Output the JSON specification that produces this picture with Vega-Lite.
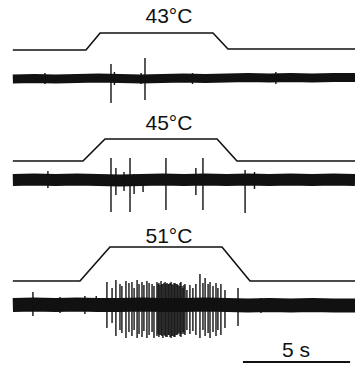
{
  "$schema": "https://vega.github.io/schema/vega-lite/v6.json",
  "width": 355,
  "height": 368,
  "padding": 0,
  "autosize": {"type": "none"},
  "background": "white",
  "config": {"view": {"stroke": null}},
  "datasets": {
    "temp": [
      {"trace": "43", "t": 0, "v": 318}, {"trace": "43", "t": 3.42, "v": 318}, {"trace": "43", "t": 4.08, "v": 335}, {"trace": "43", "t": 9.36, "v": 335}, {"trace": "43", "t": 10.06, "v": 319}, {"trace": "43", "t": 16, "v": 319},
      {"trace": "45", "t": 0, "v": 207}, {"trace": "45", "t": 3.28, "v": 207}, {"trace": "45", "t": 4.31, "v": 229}, {"trace": "45", "t": 9.55, "v": 229}, {"trace": "45", "t": 10.48, "v": 207}, {"trace": "45", "t": 16, "v": 207},
      {"trace": "51", "t": 0, "v": 87}, {"trace": "51", "t": 3.14, "v": 87}, {"trace": "51", "t": 4.54, "v": 121}, {"trace": "51", "t": 9.78, "v": 121}, {"trace": "51", "t": 11.09, "v": 87}, {"trace": "51", "t": 16, "v": 87}
    ],
    "band": [
      {"trace": "43", "t": 0, "v": 289}, {"trace": "43", "t": 1, "v": 289.5}, {"trace": "43", "t": 2, "v": 289}, {"trace": "43", "t": 3, "v": 289.5}, {"trace": "43", "t": 4, "v": 290}, {"trace": "43", "t": 5, "v": 289.5}, {"trace": "43", "t": 6, "v": 289}, {"trace": "43", "t": 7, "v": 289.5}, {"trace": "43", "t": 8, "v": 290}, {"trace": "43", "t": 9, "v": 289.5}, {"trace": "43", "t": 10, "v": 290}, {"trace": "43", "t": 11, "v": 290.5}, {"trace": "43", "t": 12, "v": 290}, {"trace": "43", "t": 13, "v": 290.5}, {"trace": "43", "t": 14, "v": 290}, {"trace": "43", "t": 15, "v": 290.5}, {"trace": "43", "t": 16, "v": 290.5},
      {"trace": "45", "t": 0, "v": 188}, {"trace": "45", "t": 1, "v": 188.5}, {"trace": "45", "t": 2, "v": 188}, {"trace": "45", "t": 3, "v": 188.5}, {"trace": "45", "t": 4, "v": 188}, {"trace": "45", "t": 5, "v": 187.5}, {"trace": "45", "t": 6, "v": 188}, {"trace": "45", "t": 7, "v": 188.5}, {"trace": "45", "t": 8, "v": 188}, {"trace": "45", "t": 9, "v": 188.5}, {"trace": "45", "t": 10, "v": 188}, {"trace": "45", "t": 11, "v": 188.5}, {"trace": "45", "t": 12, "v": 188}, {"trace": "45", "t": 13, "v": 188.5}, {"trace": "45", "t": 14, "v": 188}, {"trace": "45", "t": 15, "v": 188.5}, {"trace": "45", "t": 16, "v": 188},
      {"trace": "51", "t": 0, "v": 63}, {"trace": "51", "t": 1, "v": 63.5}, {"trace": "51", "t": 2, "v": 63}, {"trace": "51", "t": 3, "v": 63.5}, {"trace": "51", "t": 4, "v": 63}, {"trace": "51", "t": 5, "v": 63}, {"trace": "51", "t": 6, "v": 63.5}, {"trace": "51", "t": 7, "v": 63}, {"trace": "51", "t": 8, "v": 63}, {"trace": "51", "t": 9, "v": 63.5}, {"trace": "51", "t": 10, "v": 63}, {"trace": "51", "t": 11, "v": 62.5}, {"trace": "51", "t": 12, "v": 63}, {"trace": "51", "t": 13, "v": 62.5}, {"trace": "51", "t": 14, "v": 63}, {"trace": "51", "t": 15, "v": 62.5}, {"trace": "51", "t": 16, "v": 62.5}
    ],
    "spikes": [
      {"t": 4.59, "lo": 265, "hi": 304}, {"t": 6.18, "lo": 268, "hi": 310},
      {"t": 1.5, "lo": 284, "hi": 295}, {"t": 4.75, "lo": 283, "hi": 296}, {"t": 6.0, "lo": 284, "hi": 295}, {"t": 8.4, "lo": 284, "hi": 295}, {"t": 12.3, "lo": 284, "hi": 296},
      {"t": 4.59, "lo": 156, "hi": 210}, {"t": 5.48, "lo": 156, "hi": 210}, {"t": 7.16, "lo": 158, "hi": 210}, {"t": 8.89, "lo": 158, "hi": 210}, {"t": 10.86, "lo": 155, "hi": 198},
      {"t": 4.82, "lo": 173, "hi": 200}, {"t": 5.67, "lo": 174, "hi": 194}, {"t": 6.09, "lo": 176, "hi": 191}, {"t": 8.56, "lo": 173, "hi": 200}, {"t": 1.64, "lo": 180, "hi": 197}, {"t": 5.2, "lo": 177, "hi": 196}, {"t": 11.3, "lo": 179, "hi": 196},
      {"t": 0.94, "lo": 52, "hi": 76}, {"t": 2.21, "lo": 55, "hi": 71}, {"t": 3.37, "lo": 54, "hi": 72}, {"t": 3.9, "lo": 56, "hi": 72}, {"t": 11.6, "lo": 55, "hi": 70},
      {"t": 4.40, "lo": 40, "hi": 86}, {"t": 4.64, "lo": 45, "hi": 80}, {"t": 4.82, "lo": 32, "hi": 88}, {"t": 5.01, "lo": 38, "hi": 84}, {"t": 5.10, "lo": 35, "hi": 82}, {"t": 5.29, "lo": 30, "hi": 87}, {"t": 5.43, "lo": 36, "hi": 85}, {"t": 5.57, "lo": 32, "hi": 86}, {"t": 5.67, "lo": 38, "hi": 80}, {"t": 5.81, "lo": 30, "hi": 88}, {"t": 5.90, "lo": 34, "hi": 84}, {"t": 6.04, "lo": 31, "hi": 86}, {"t": 6.13, "lo": 37, "hi": 83}, {"t": 6.27, "lo": 30, "hi": 87}, {"t": 6.37, "lo": 33, "hi": 85}, {"t": 6.51, "lo": 36, "hi": 84}, {"t": 6.60, "lo": 30, "hi": 82},
      {"t": 6.74, "lo": 32, "hi": 86}, {"t": 6.79, "lo": 34, "hi": 84}, {"t": 6.83, "lo": 31, "hi": 85}, {"t": 6.88, "lo": 33, "hi": 83}, {"t": 6.93, "lo": 33, "hi": 87}, {"t": 6.97, "lo": 32, "hi": 84}, {"t": 7.02, "lo": 30, "hi": 84}, {"t": 7.07, "lo": 33, "hi": 85}, {"t": 7.12, "lo": 32, "hi": 86}, {"t": 7.16, "lo": 31, "hi": 84}, {"t": 7.21, "lo": 31, "hi": 85}, {"t": 7.26, "lo": 33, "hi": 84}, {"t": 7.30, "lo": 33, "hi": 84}, {"t": 7.35, "lo": 31, "hi": 85}, {"t": 7.40, "lo": 30, "hi": 86}, {"t": 7.44, "lo": 32, "hi": 84}, {"t": 7.49, "lo": 32, "hi": 83}, {"t": 7.54, "lo": 31, "hi": 85}, {"t": 7.58, "lo": 31, "hi": 85}, {"t": 7.63, "lo": 33, "hi": 84}, {"t": 7.68, "lo": 33, "hi": 84}, {"t": 7.72, "lo": 34, "hi": 83}, {"t": 7.77, "lo": 35, "hi": 82}, {"t": 7.82, "lo": 32, "hi": 85}, {"t": 7.86, "lo": 31, "hi": 86}, {"t": 7.91, "lo": 34, "hi": 82}, {"t": 7.96, "lo": 36, "hi": 80}, {"t": 8.00, "lo": 34, "hi": 83},
      {"t": 8.05, "lo": 33, "hi": 84}, {"t": 8.14, "lo": 38, "hi": 78}, {"t": 8.28, "lo": 34, "hi": 83}, {"t": 8.42, "lo": 37, "hi": 80}, {"t": 8.56, "lo": 33, "hi": 84}, {"t": 8.75, "lo": 30, "hi": 94}, {"t": 8.89, "lo": 38, "hi": 85}, {"t": 8.99, "lo": 32, "hi": 90}, {"t": 9.13, "lo": 35, "hi": 84}, {"t": 9.22, "lo": 30, "hi": 86}, {"t": 9.36, "lo": 36, "hi": 82}, {"t": 9.50, "lo": 32, "hi": 85}, {"t": 9.59, "lo": 38, "hi": 80}, {"t": 9.73, "lo": 33, "hi": 84}, {"t": 9.92, "lo": 40, "hi": 78}, {"t": 10.53, "lo": 42, "hi": 80}
    ],
    "labels": [
      {"t": 7.30, "v": 345, "text": "43°C"},
      {"t": 7.30, "v": 238, "text": "45°C"},
      {"t": 7.30, "v": 125, "text": "51°C"}
    ],
    "scalebar": [
      {"t": 10.76, "t2": 15.77, "v": 6, "text": "5 s", "tm": 13.24, "vt": 11}
    ]
  },
  "layer": [
    {
      "data": {"name": "temp"},
      "mark": {"type": "line", "color": "#111", "strokeWidth": 1.6},
      "encoding": {
        "x": {"field": "t", "type": "quantitative", "scale": {"domain": [-0.6, 16], "nice": false, "zero": false}, "axis": null},
        "y": {"field": "v", "type": "quantitative", "scale": {"domain": [0, 368], "nice": false, "zero": false}, "axis": null},
        "detail": {"field": "trace"}
      }
    },
    {
      "data": {"name": "band"},
      "transform": [{"filter": "datum.trace === '43'"}],
      "mark": {"type": "line", "color": "#111", "strokeWidth": 9},
      "encoding": {
        "x": {"field": "t", "type": "quantitative"},
        "y": {"field": "v", "type": "quantitative"}
      }
    },
    {
      "data": {"name": "band"},
      "transform": [{"filter": "datum.trace === '45'"}],
      "mark": {"type": "line", "color": "#111", "strokeWidth": 12},
      "encoding": {
        "x": {"field": "t", "type": "quantitative"},
        "y": {"field": "v", "type": "quantitative"}
      }
    },
    {
      "data": {"name": "band"},
      "transform": [{"filter": "datum.trace === '51'"}],
      "mark": {"type": "line", "color": "#111", "strokeWidth": 14},
      "encoding": {
        "x": {"field": "t", "type": "quantitative"},
        "y": {"field": "v", "type": "quantitative"}
      }
    },
    {
      "data": {"name": "spikes"},
      "mark": {"type": "rule", "color": "#111", "strokeWidth": 1.4},
      "encoding": {
        "x": {"field": "t", "type": "quantitative"},
        "y": {"field": "lo", "type": "quantitative"},
        "y2": {"field": "hi"}
      }
    },
    {
      "data": {"name": "labels"},
      "mark": {"type": "text", "font": "Liberation Sans", "fontSize": 21, "align": "center", "baseline": "alphabetic", "color": "#111"},
      "encoding": {
        "x": {"field": "t", "type": "quantitative"},
        "y": {"field": "v", "type": "quantitative"},
        "text": {"field": "text"}
      }
    },
    {
      "data": {"name": "scalebar"},
      "mark": {"type": "rule", "color": "#111", "strokeWidth": 2},
      "encoding": {
        "x": {"field": "t", "type": "quantitative"},
        "x2": {"field": "t2"},
        "y": {"field": "v", "type": "quantitative"}
      }
    },
    {
      "data": {"name": "scalebar"},
      "mark": {"type": "text", "font": "Liberation Sans", "fontSize": 21, "align": "center", "baseline": "alphabetic", "color": "#111"},
      "encoding": {
        "x": {"field": "tm", "type": "quantitative"},
        "y": {"field": "vt", "type": "quantitative"},
        "text": {"field": "text"}
      }
    }
  ]
}
